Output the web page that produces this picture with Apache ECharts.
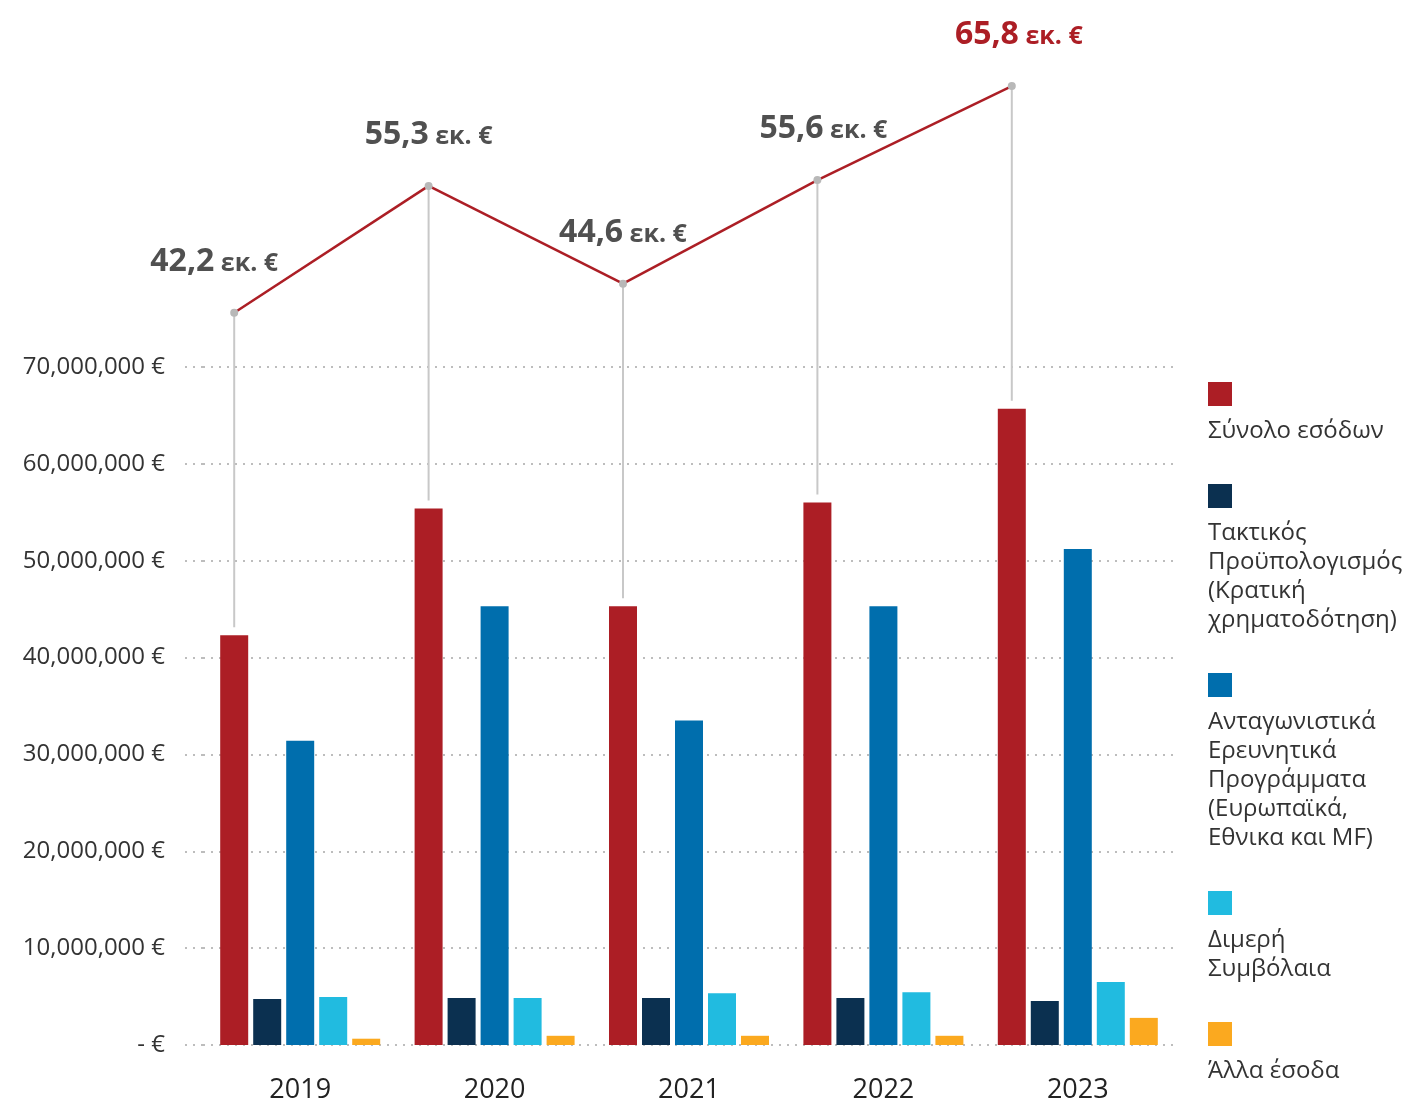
<!DOCTYPE html>
<html>
<head>
<meta charset="utf-8">
<script src="https://cdn.jsdelivr.net/npm/echarts@6/dist/echarts.min.js"></script>
<style>
html, body { margin: 0; padding: 0; background: #fff; }
#chart { width: 1408px; height: 1102px; }
</style>
</head>
<body>
<div id="chart"></div>
<script>
// values in million €
const years = ["2019", "2020", "2021", "2022", "2023"];
const totalIncome = [42.3, 55.4, 45.3, 56.0, 65.7];
const stateBudget = [4.75, 4.85, 4.85, 4.85, 4.55];
const competitive = [31.4, 45.3, 33.5, 45.3, 51.2];
const bilateral = [4.95, 4.85, 5.35, 5.45, 6.5];
const otherIncome = [0.65, 0.95, 0.95, 0.95, 2.8];
// the rounded totals written above the line
const totalLabels = [42.2, 55.3, 44.6, 55.6, 65.8];
const yMin = 0;
const yMax = 70;
const yStep = 10;

const legendLabels = [
  "Σύνολο εσόδων",
  "Τακτικός\nΠροϋπολογισμός\n(Κρατική\nχρηματοδότηση)",
  "Ανταγωνιστικά\nΕρευνητικά\nΠρογράμματα\n(Ευρωπαϊκά,\nΕθνικα και MF)",
  "Διμερή\nΣυμβόλαια",
  "Άλλα έσοδα"
];
const colors = ["#ac1e25", "#0b3050", "#006ead", "#21bbe0", "#fba91f"];
const seriesData = [totalIncome, stateBudget, competitive, bilateral, otherIncome];

const FONT = "'Open Sans', 'Noto Sans', sans-serif";
const BAR_W = 28;
const BAR_GAP = 5;
const groupWidth = 5 * BAR_W + 4 * BAR_GAP;
const redOffset = -groupWidth / 2 + BAR_W / 2;
// the total line sits above the bars, shifted up by this many axis units
const lineShift = 33.3;
// small horizontal nudges of the total labels (px)
const labelNudge = [-20, 0, 0, 6, 7];

function fmtAxis(v) {
  if (v === 0) return "- €";
  return Math.round(v * 1e6).toLocaleString("en-US") + " €";
}

const dotted = { color: "#bdbdbd", width: 2, type: [2, 6] };

function renderTotals(params, api) {
  const i = params.dataIndex;
  const pt = api.coord([api.value(0), api.value(1)]);
  const x = pt[0] + redOffset;
  const barTop = api.coord([api.value(0), api.value(1) - lineShift])[1];
  const children = [{
    type: "line",
    shape: { x1: x, y1: pt[1], x2: x, y2: barTop - 8 },
    style: { stroke: "#c8c8c8", lineWidth: 2 },
    z2: 1
  }];
  if (i < totalIncome.length - 1) {
    const next = api.coord([i + 1, totalIncome[i + 1]]);
    children.push({
      type: "line",
      shape: { x1: x, y1: pt[1], x2: next[0] + redOffset, y2: next[1] },
      style: { stroke: colors[0], lineWidth: 2.5 },
      z2: 2
    });
  }
  children.push({
    type: "circle",
    shape: { cx: x, cy: pt[1], r: 4 },
    style: { fill: "#b8b8b8" },
    z2: 3
  });
  const isLast = i === totalIncome.length - 1;
  const fill = isLast ? colors[0] : "#505050";
  const txt = totalLabels[i].toFixed(1).replace(".", ",");
  children.push({
    type: "text",
    x: x + labelNudge[i],
    y: pt[1] - 51,
    style: {
      text: "{a|" + txt + "}{b| εκ. €}",
      align: "center",
      verticalAlign: "middle",
      rich: {
        a: { fontSize: 32, fontWeight: "bold", fontFamily: FONT, fill: fill },
        b: { fontSize: 25, fontWeight: "bold", fontFamily: FONT, fill: fill, padding: [4, 0, 0, 0] }
      }
    },
    z2: 4
  });
  return { type: "group", children: children };
}

// legend drawn as squares with the text underneath
const legendItems = [];
let ly = 382;
legendLabels.forEach((label, k) => {
  const lines = label.split("\n").length;
  legendItems.push({
    type: "rect",
    left: 1208, top: ly,
    shape: { width: 24, height: 24 },
    style: { fill: colors[k] }
  });
  legendItems.push({
    type: "text",
    left: 1208, top: ly + 35,
    style: { text: label, fontSize: 24, lineHeight: 29, fontFamily: FONT, fill: "#333" }
  });
  ly += 34 + lines * 29 + 39;
});

const chart = echarts.init(document.getElementById("chart"));
chart.setOption({
  animation: false,
  backgroundColor: "#fff",
  grid: { left: 203, right: 233, top: 367, bottom: 57, outerBoundsMode: "none", containLabel: false },
  xAxis: {
    type: "category",
    data: years,
    axisLine: { show: false },
    axisTick: { show: false },
    axisLabel: { margin: 32, fontSize: 27, fontFamily: FONT, color: "#222" }
  },
  yAxis: [{
    type: "value",
    min: yMin, max: yMax, interval: yStep,
    axisLine: { show: false },
    axisTick: { show: true, length: 23, lineStyle: dotted },
    splitLine: { show: true, lineStyle: dotted },
    axisLabel: { margin: 38, fontSize: 24, fontFamily: FONT, color: "#333", formatter: fmtAxis }
  }, {
    type: "value",
    show: false,
    min: yMin - lineShift, max: yMax - lineShift,
    splitLine: { show: false }
  }],
  graphic: legendItems,
  series: seriesData.map((d, k) => ({
    type: "bar",
    name: legendLabels[k].replace(/\n/g, " "),
    data: d,
    barWidth: BAR_W,
    barGap: (BAR_GAP / BAR_W * 100) + "%",
    itemStyle: { color: colors[k] },
    z: 2
  })).concat([{
    type: "custom",
    name: "total",
    yAxisIndex: 1,
    data: totalIncome.map((v, i) => [i, v]),
    renderItem: renderTotals,
    clip: false,
    z: 5
  }])
});
</script>
</body>
</html>
